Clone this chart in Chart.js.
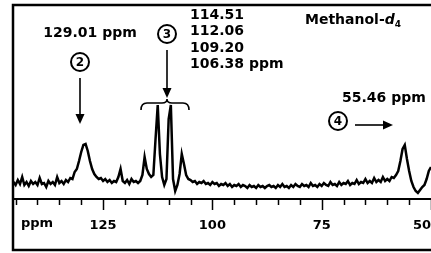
<!DOCTYPE html>
<html>
<head>
<meta charset="utf-8">
<script src="https://cdn.jsdelivr.net/npm/chart.js@4.4.1/dist/chart.umd.min.js"></script>
<style>
  html, body { margin: 0; padding: 0; background: #fff; }
  .box { width: 431px; height: 253px; }
</style>
</head>
<body>
<div class="box"><canvas id="chart" width="431" height="253"></canvas></div>
<script>
// ---- spectrum (0.5 ppm grid, 146 -> 50 ppm) ----
const PPM_START = 146;
const PPM_STEP = 0.5;
const INTENSITY = [
  16, 17, 14, 19, 15, 22, 14, 17, 13, 18,   // 146.0 .. 141.5
  15, 17, 14, 21, 15, 16, 12, 18, 15, 17,   // 141.0 .. 136.5
  14, 22, 16, 18, 15, 19, 17, 21, 20, 27,   // 136.0 .. 131.5
  30, 38, 47, 54, 55, 48, 38, 30, 25, 22,   // 131.0 .. 126.5  (peak 2)
  20, 21, 18, 20, 17, 19, 16, 18, 17, 22,   // 126.0 .. 121.5
  30, 18, 16, 19, 15, 20, 17, 18, 16, 18,   // 121.0 .. 116.5
  24, 42, 30, 25, 22, 24, 60, 94, 45, 22,   // 116.0 .. 111.5  (peak 3)
  14, 20, 80, 94, 20, 8, 14, 25, 45, 35,    // 111.0 .. 106.5
  24, 20, 19, 17, 18, 15, 17, 16, 18, 15,   // 106.0 .. 101.5
  16, 14, 17, 15, 16, 13, 15, 14, 16, 13,   // 101.0 .. 96.5
  15, 12, 14, 13, 15, 12, 14, 13, 11, 14,   // 96.0 .. 91.5
  12, 13, 11, 14, 12, 13, 11, 13, 14, 12,   // 91.0 .. 86.5
  13, 11, 14, 12, 15, 12, 13, 11, 14, 12,   // 86.0 .. 81.5
  15, 13, 12, 15, 13, 14, 12, 16, 13, 14,   // 81.0 .. 76.5
  12, 15, 13, 16, 14, 13, 17, 14, 15, 13,   // 76.0 .. 71.5
  17, 14, 16, 15, 18, 14, 16, 15, 19, 15,   // 71.0 .. 66.5
  17, 16, 20, 16, 18, 16, 21, 17, 19, 17,   // 66.0 .. 61.5
  22, 18, 20, 18, 22, 21, 24, 28, 38, 50,   // 61.0 .. 56.5
  54, 40, 28, 18, 12, 8, 6, 9, 12, 14,      // 56.0 .. 51.5  (peak 4)
  20, 28, 32                                // 51.0 .. 50.0
];

const MAJOR_TICKS = [50, 75, 100, 125];
const MINOR_STEP = 5;
const SHIFTS_3 = ['114.51', '112.06', '109.20', '106.38 ppm'];

const points = INTENSITY.map((v, i) => ({ x: PPM_START - i * PPM_STEP, y: v }));

const FAMILY = '"DejaVu Sans", sans-serif';
const FONT = 'bold 14px ' + FAMILY;

function circled(ctx, n, cx, cy) {
  ctx.beginPath();
  ctx.lineWidth = 2;
  ctx.arc(cx, cy, 9, 0, Math.PI * 2);
  ctx.stroke();
  ctx.font = 'bold 12px ' + FAMILY;
  ctx.textAlign = 'center';
  ctx.textBaseline = 'middle';
  ctx.fillText(String(n), cx, cy + 0.5);
}

function arrow(ctx, x1, y1, x2, y2) {
  const a = Math.atan2(y2 - y1, x2 - x1);
  ctx.beginPath();
  ctx.lineWidth = 1.6;
  ctx.moveTo(x1, y1);
  ctx.lineTo(x2 - 7 * Math.cos(a), y2 - 7 * Math.sin(a));
  ctx.stroke();
  ctx.beginPath();
  ctx.moveTo(x2, y2);
  ctx.lineTo(x2 - 10 * Math.cos(a) + 4.5 * Math.sin(a), y2 - 10 * Math.sin(a) - 4.5 * Math.cos(a));
  ctx.lineTo(x2 - 10 * Math.cos(a) - 4.5 * Math.sin(a), y2 - 10 * Math.sin(a) + 4.5 * Math.cos(a));
  ctx.closePath();
  ctx.fill();
}

// frame, minor ticks and the peak annotations
const decor = {
  id: 'decor',
  afterDraw(chart) {
    const { ctx, chartArea: a, scales: { x } } = chart;
    ctx.save();
    ctx.strokeStyle = '#000';
    ctx.fillStyle = '#000';

    // frame
    ctx.lineWidth = 2.5;
    ctx.strokeRect(13, 5, 430, 245);

    // ticks under the axis line
    ctx.lineWidth = 1.5;
    for (let v = 145; v >= 50; v -= MINOR_STEP) {
      const px = Math.round(x.getPixelForValue(v)) + 0.5;
      const len = MAJOR_TICKS.includes(v) ? 11 : 6;
      ctx.beginPath();
      ctx.moveTo(px, a.bottom);
      ctx.lineTo(px, a.bottom + len);
      ctx.stroke();
    }

    ctx.font = 'bold 13px ' + FAMILY;
    ctx.textBaseline = 'middle';
    ctx.textAlign = 'left';
    ctx.fillText('ppm', 21, 224);

    // peak 2
    ctx.font = FONT;
    ctx.textAlign = 'center';
    ctx.fillText('129.01 ppm', 90, 33);
    circled(ctx, 2, 80, 62);
    arrow(ctx, 80, 78, 80, 124);

    // peak 3
    circled(ctx, 3, 167, 34);
    arrow(ctx, 167, 50, 167, 98);
    ctx.lineWidth = 1.6;
    ctx.beginPath();
    ctx.moveTo(141, 110);
    ctx.quadraticCurveTo(141, 103, 147, 103);
    ctx.lineTo(162, 103);
    ctx.quadraticCurveTo(167, 103, 167, 99);
    ctx.quadraticCurveTo(167, 103, 172, 103);
    ctx.lineTo(183, 103);
    ctx.quadraticCurveTo(189, 103, 189, 110);
    ctx.stroke();
    ctx.font = FONT;
    ctx.textAlign = 'left';
    SHIFTS_3.forEach((s, i) => ctx.fillText(s, 190, 15 + i * 16.5));

    // solvent
    ctx.fillText('Methanol-', 305, 20);
    let w = ctx.measureText('Methanol-').width;
    ctx.font = 'bold oblique 14px ' + FAMILY;
    ctx.fillText('d', 305 + w, 20);
    w += ctx.measureText('d').width;
    ctx.font = 'bold 9px ' + FAMILY;
    ctx.fillText('4', 305 + w, 25);

    // peak 4
    ctx.font = FONT;
    ctx.fillText('55.46 ppm', 342, 98);
    circled(ctx, 4, 338, 121);
    arrow(ctx, 355, 125, 393, 125);

    ctx.restore();
  }
};

new Chart(document.getElementById('chart'), {
  type: 'line',
  data: {
    datasets: [{
      data: points,
      borderColor: '#000',
      borderWidth: 2.5,
      pointRadius: 0,
      tension: 0,
      fill: false
    }]
  },
  options: {
    responsive: false,
    animation: false,
    events: [],
    layout: { autoPadding: false, padding: { left: 13, top: 5, right: 0, bottom: 0 } },
    plugins: { legend: { display: false }, tooltip: { enabled: false } },
    scales: {
      x: {
        type: 'linear',
        reverse: true,
        min: 50,
        max: 145.6,
        // 50 first so 'inner' pushes its label inside the right edge; last tick is an unlabelled filler
        afterBuildTicks: s => { s.ticks = [...MAJOR_TICKS, 145.6].map(v => ({ value: v })); },
        afterFit: s => { s.height = 54; s.paddingLeft = 0; s.paddingRight = 0; },
        grid: { display: false },
        border: { display: true, color: '#000', width: 2 },
        ticks: {
          color: '#000',
          font: { family: FAMILY, size: 13, weight: 'bold' },
          padding: 11,
          align: 'inner',
          maxRotation: 0,
          autoSkip: false,
          callback: v => (MAJOR_TICKS.includes(v) ? String(v) : '')
        }
      },
      y: { display: false, min: 0, max: 194 }
    }
  },
  plugins: [decor]
});
</script>
</body>
</html>
